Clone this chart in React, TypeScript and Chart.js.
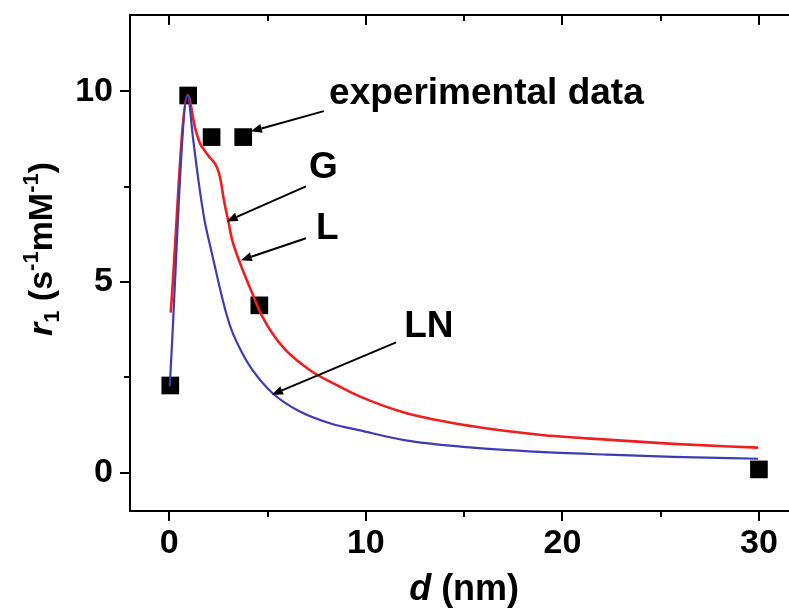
import React, { useEffect, useRef } from 'react';
import { Chart, registerables } from 'chart.js';

Chart.register(...registerables);

// ---- data ----
const expD = [0.05, 0.96, 2.15, 3.76, 4.58, 30];
const expR1 = [2.29, 9.89, 8.8, 8.8, 4.39, 0.09];

const gD = [0.07, 0.93, 1.33, 1.58, 1.75, 2.0, 2.26, 2.43, 2.6, 2.77, 3.02, 3.19, 3.53, 4.21, 4.72, 5.74, 7.1, 8.63, 9.65, 12.03, 15.43, 18.83, 22.23, 25.63, 29.96];
const gR1 = [4.2, 9.9, 9.0, 8.61, 8.48, 8.3, 8.15, 8.0, 7.7, 7.17, 6.55, 6.12, 5.59, 4.72, 4.11, 3.32, 2.71, 2.27, 2.01, 1.57, 1.22, 1.0, 0.87, 0.76, 0.66];

const lnD = [0.02, 0.93, 1.2, 1.5, 1.8, 2.1, 2.5, 2.86, 3.2, 3.7, 4.2, 5.23, 6.59, 8.29, 9.65, 12.03, 15.43, 18.83, 22.23, 25.63, 29.96];
const lnR1 = [2.27, 9.9, 8.8, 7.6, 6.6, 5.9, 5.0, 4.25, 3.7, 3.15, 2.72, 2.1, 1.62, 1.28, 1.12, 0.85, 0.66, 0.55, 0.48, 0.42, 0.37];

const xMajor = [0, 10, 20, 30];
const xMinor = [5, 15, 25];
const yMajor = [0, 5, 10];
const yMinor = [2.5, 7.5];

const X_MIN = -2;
const X_MAX = 31.53;
const Y_MIN = -1;
const Y_MAX = 12;

// annotations: [text, x, y] and arrows [x1, y1, x2, y2] in data units
const labels: [string, number, number][] = [
  ['experimental data', 8.13, 9.66],
  ['G', 7.11, 7.72],
  ['L', 7.47, 6.12],
  ['LN', 11.95, 3.55],
];
const arrows: [number, number, number, number][] = [
  [7.86, 9.48, 4.15, 8.95],
  [6.95, 7.51, 2.92, 6.59],
  [6.95, 6.15, 3.64, 5.57],
  [11.54, 3.42, 5.22, 2.05],
];

const FAMILY = '"Liberation Sans", Arial, Helvetica, sans-serif';
const F_SIZE = 34;
const A_SIZE = 37;

type Seg = { t: string; f: string; dy: number };

function drawRich(ctx: CanvasRenderingContext2D, segs: Seg[], cx: number, baseY: number) {
  let total = 0;
  for (const s of segs) {
    ctx.font = s.f;
    total += ctx.measureText(s.t).width;
  }
  let x = cx - total / 2;
  ctx.textAlign = 'left';
  ctx.textBaseline = 'alphabetic';
  for (const s of segs) {
    ctx.font = s.f;
    ctx.fillText(s.t, x, baseY + s.dy);
    x += ctx.measureText(s.t).width;
  }
}

function drawArrow(ctx: CanvasRenderingContext2D, x1: number, y1: number, x2: number, y2: number) {
  const ang = Math.atan2(y2 - y1, x2 - x1);
  const len = 11;
  const hw = 4.5;
  const bx = x2 - Math.cos(ang) * len;
  const by = y2 - Math.sin(ang) * len;
  ctx.beginPath();
  ctx.moveTo(x1, y1);
  ctx.lineTo(bx, by);
  ctx.lineWidth = 2;
  ctx.strokeStyle = '#000';
  ctx.stroke();
  ctx.beginPath();
  ctx.moveTo(x2, y2);
  ctx.lineTo(bx + Math.sin(ang) * hw, by - Math.cos(ang) * hw);
  ctx.lineTo(bx - Math.sin(ang) * hw, by + Math.cos(ang) * hw);
  ctx.closePath();
  ctx.fillStyle = '#000';
  ctx.fill();
}

const zeroPad = (s: any) => {
  s.paddingTop = 0;
  s.paddingBottom = 0;
  s.paddingLeft = 0;
  s.paddingRight = 0;
};

const decoPlugin = {
  id: 'deco',
  afterDraw(chart: any) {
    const { ctx, chartArea } = chart;
    const xs = chart.scales.x;
    const ys = chart.scales.y;
    const { left, right, top, bottom } = chartArea;
    ctx.save();
    ctx.strokeStyle = '#000';
    ctx.lineWidth = 2;
    ctx.beginPath();
    ctx.moveTo(right + 2, top);
    ctx.lineTo(left, top);
    ctx.lineTo(left, bottom);
    ctx.lineTo(right + 2, bottom);
    ctx.stroke();
    const tick = (x1: number, y1: number, x2: number, y2: number) => {
      ctx.beginPath();
      ctx.moveTo(x1, y1);
      ctx.lineTo(x2, y2);
      ctx.stroke();
    };
    for (const v of xMajor) {
      const px = Math.round(xs.getPixelForValue(v));
      tick(px, bottom, px, bottom + 10);
      tick(px, top, px, top + 10);
    }
    for (const v of xMinor) {
      const px = Math.round(xs.getPixelForValue(v));
      tick(px, bottom, px, bottom + 6);
      tick(px, top, px, top + 6);
    }
    for (const v of yMajor) {
      const py = Math.round(ys.getPixelForValue(v));
      tick(left, py, left - 10, py);
    }
    for (const v of yMinor) {
      const py = Math.round(ys.getPixelForValue(v));
      tick(left, py, left - 6, py);
    }

    ctx.fillStyle = '#000';
    drawRich(
      ctx,
      [
        { t: 'd', f: `italic bold 36px ${FAMILY}`, dy: 0 },
        { t: ' (nm)', f: `bold 36px ${FAMILY}`, dy: 0 },
      ],
      xs.getPixelForValue(15),
      600
    );
    ctx.save();
    ctx.translate(52, 249);
    ctx.rotate(-Math.PI / 2);
    const big = `bold ${F_SIZE}px ${FAMILY}`;
    const small = `bold 22px ${FAMILY}`;
    drawRich(
      ctx,
      [
        { t: 'r', f: `italic bold ${F_SIZE}px ${FAMILY}`, dy: 0 },
        { t: '1', f: small, dy: 7 },
        { t: ' (s', f: big, dy: 0 },
        { t: '-1', f: small, dy: -14 },
        { t: 'mM', f: big, dy: 0 },
        { t: '-1', f: small, dy: -14 },
        { t: ')', f: big, dy: 0 },
      ],
      0,
      0
    );
    ctx.restore();

    ctx.font = `bold ${A_SIZE}px ${FAMILY}`;
    ctx.textAlign = 'left';
    ctx.textBaseline = 'alphabetic';
    for (const [t, x, y] of labels) {
      ctx.fillText(t, xs.getPixelForValue(x), ys.getPixelForValue(y));
    }
    for (const [x1, y1, x2, y2] of arrows) {
      drawArrow(ctx, xs.getPixelForValue(x1), ys.getPixelForValue(y1), xs.getPixelForValue(x2), ys.getPixelForValue(y2));
    }
    ctx.restore();
  },
};

export default function App() {
  const ref = useRef<HTMLCanvasElement | null>(null);
  useEffect(() => {
    if (!ref.current) return;
    const chart = new Chart(ref.current, {
      type: 'scatter',
      data: {
        datasets: [
          {
            label: 'LN',
            data: lnD.map((d, i) => ({ x: d, y: lnR1[i] })),
            showLine: true,
            borderColor: 'rgb(60,60,180)',
            borderWidth: 2.2,
            pointRadius: 0,
            cubicInterpolationMode: 'monotone',
          },
          {
            label: 'G / L',
            data: gD.map((d, i) => ({ x: d, y: gR1[i] })),
            showLine: true,
            borderColor: 'rgb(240,30,30)',
            borderWidth: 2.6,
            pointRadius: 0,
            cubicInterpolationMode: 'monotone',
          },
          {
            label: 'experimental data',
            data: expD.map((d, i) => ({ x: d, y: expR1[i] })),
            showLine: false,
            pointStyle: 'rect',
            pointRadius: 12.5,
            backgroundColor: '#000',
            borderColor: '#000',
            borderWidth: 0,
          },
        ],
      },
      options: {
        animation: false,
        responsive: false,
        devicePixelRatio: 1,
        layout: { padding: 0, autoPadding: false },
        plugins: { legend: { display: false }, tooltip: { enabled: false } },
        scales: {
          x: {
            type: 'linear',
            position: 'bottom',
            min: X_MIN,
            max: X_MAX,
            grid: { display: false, drawTicks: false },
            border: { display: false },
            afterBuildTicks: (s: any) => {
              s.ticks = xMajor.map((v) => ({ value: v }));
            },
            afterFit: (s: any) => {
              s.height = 97;
              zeroPad(s);
            },
            ticks: {
              padding: 12,
              color: '#000',
              font: { family: FAMILY, size: F_SIZE, weight: 'bold' },
              maxRotation: 0,
              autoSkip: false,
            },
          },
          xTop: {
            type: 'linear',
            position: 'top',
            min: X_MIN,
            max: X_MAX,
            grid: { display: false, drawTicks: false },
            border: { display: false },
            ticks: { display: false },
            afterFit: (s: any) => {
              s.height = 15;
              zeroPad(s);
            },
          },
          y: {
            type: 'linear',
            min: Y_MIN,
            max: Y_MAX,
            grid: { display: false, drawTicks: false },
            border: { display: false },
            afterBuildTicks: (s: any) => {
              s.ticks = yMajor.map((v) => ({ value: v }));
            },
            afterFit: (s: any) => {
              s.width = 130;
              zeroPad(s);
            },
            ticks: {
              padding: 17,
              color: '#000',
              font: { family: FAMILY, size: F_SIZE, weight: 'bold' },
            },
          },
        },
      } as any,
      plugins: [decoPlugin],
    });
    return () => chart.destroy();
  }, []);
  return (
    <div style={{ position: 'fixed', left: 0, top: 0, width: 789, height: 608, background: '#fff' }}>
      <canvas ref={ref} width={789} height={608} style={{ display: 'block' }} />
    </div>
  );
}
